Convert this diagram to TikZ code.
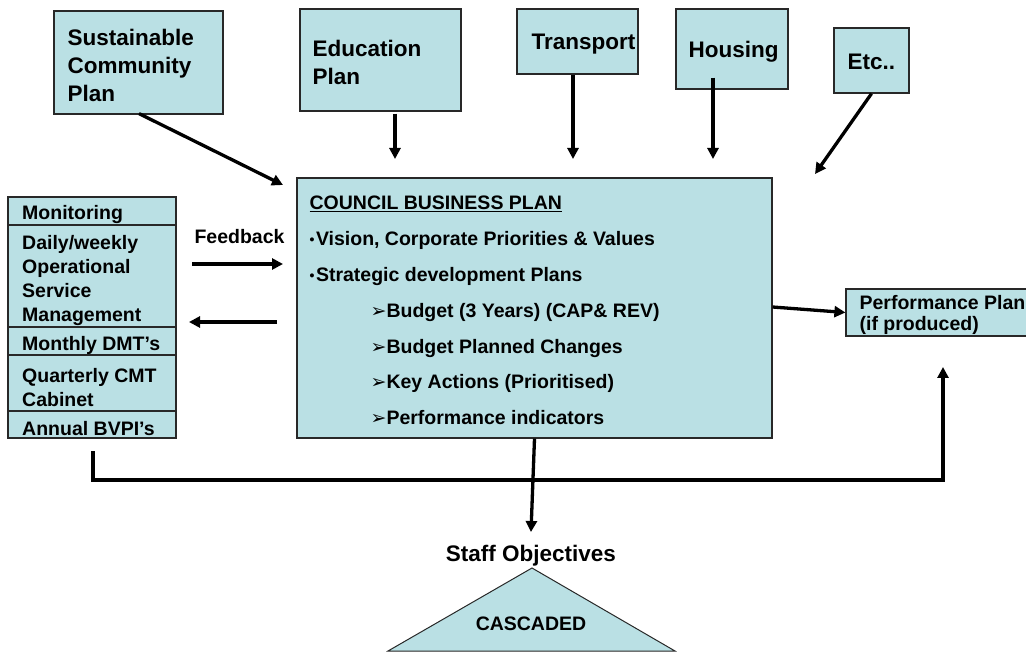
\documentclass[tikz,border=0pt]{standalone}
\usepackage{fontspec}
\setmainfont{Liberation Sans}
\newfontfamily\symfont{DejaVu Sans}
\usetikzlibrary{arrows.meta,calc}
\definecolor{boxfill}{RGB}{186,224,228}
\definecolor{boxline}{RGB}{40,40,40}
\newcommand{\blt}{\raisebox{1pt}{\fontsize{14}{14}\selectfont•}\hspace{1.5pt}}
\newcommand{\tip}{\hspace*{61pt}{\symfont\fontsize{19}{19}\selectfont ➢}}

\begin{document}
\begin{tikzpicture}[x=1pt,y=-1pt,
  big/.style={font=\fontsize{22.5}{28}\selectfont\bfseries},
  small/.style={font=\fontsize{19.5}{24}\selectfont\bfseries},
  planbox/.style={draw=boxline, line width=1.2pt, fill=boxfill, inner sep=0pt},
  label/.style={anchor=west, inner sep=0pt, align=left},
  arr/.style={-{Triangle[width=11pt,length=11pt]}, line width=3.3pt}]
\useasboundingbox (0,0) rectangle (1026,652);
\clip (0,0) rectangle (1026,652);

% source plans along the top
\node[planbox, minimum width=169pt, minimum height=103pt] (scp) at (138.5,62.5) {};
\node[label, big] (scpT) at ([xshift=14pt,yshift=-2.5pt]scp.west)
  {Sustainable\\Community\\Plan};
\node[planbox, minimum width=161pt, minimum height=102pt] (edu) at (380.5,60) {};
\node[label, big] (eduT) at ([xshift=13pt,yshift=-2.5pt]edu.west) {Education\\Plan};
\node[planbox, minimum width=121pt, minimum height=65pt] (tra) at (577.5,41.5) {};
\node[label, big] (traT) at ([xshift=15pt,yshift=-3pt]tra.west) {Transport};
\node[planbox, minimum width=112pt, minimum height=80pt] (hou) at (732,49) {};
\node[label, big] (houT) at ([xshift=13pt,yshift=-2.5pt]hou.west) {Housing};
\node[planbox, minimum width=75pt, minimum height=65pt] (etc) at (871.5,60.5) {};
\node[label, big] (etcT) at ([xshift=14pt,yshift=-1.5pt]etc.west) {Etc..};

% central business plan
\node[planbox, minimum width=475pt, minimum height=260pt] (council) at (534.5,308) {};
\node[label, font=\fontsize{19.5}{35.8}\selectfont\bfseries]
  (councilT) at ([xshift=13pt,yshift=-2.5pt]council.west) {%
  \underline{COUNCIL BUSINESS PLAN}\\
  \blt Vision, Corporate Priorities \& Values\\
  \blt Strategic development Plans\\
  \tip Budget (3 Years) (CAP\& REV)\\
  \tip Budget Planned Changes\\
  \tip Key Actions (Prioritised)\\
  \tip Performance indicators};

% monitoring stack on the left
\node[planbox, minimum width=168pt, minimum height=241pt] (mon) at (92,317.5) {};
\draw[boxline, line width=1.2pt] (8,225) -- (176,225)
  (8,327) -- (176,327) (8,355) -- (176,355) (8,411) -- (176,411);
\node[label, small] (monA) at (22,214.5) {Monitoring};
\node[label, small] (monB) at (22,280.5)
  {Daily/weekly\\Operational\\Service\\Management};
\node[label, small] (monC) at (22,345.5) {Monthly DMT’s};
\node[label, small] (monD) at (22,387.5) {Quarterly CMT\\Cabinet};
\node[label, small] (monE) at (22,428.5) {Annual BVPI’s};

% performance plan on the right
\node[planbox, minimum width=204pt, minimum height=47pt] (perf) at (948,312.5) {};
\node[label, font=\fontsize{19.5}{21}\selectfont\bfseries]
  (perfT) at ([xshift=14pt,yshift=-2pt]perf.west) {Performance Plan\\(if produced)};

\node[small, inner sep=0pt] (fb) at (239.5,236.5) {Feedback};

% staff objectives
\node[big, inner sep=0pt] (staff) at (531,555.5) {Staff Objectives};
\coordinate (triTop) at (532,568);
\coordinate (triL) at (388,651);
\coordinate (triR) at (675,651);
\draw[boxline, line width=1pt, fill=boxfill] (triTop) -- (triL) -- (triR) -- cycle;
\node[small, inner sep=0pt] (casc) at (531,624) {CASCADED};

% arrow end points
\coordinate (scpTip) at (283,185);
\coordinate (eduTip) at (395,159);
\coordinate (traTip) at (573,159);
\coordinate (houTip) at (713,159);
\coordinate (etcTip) at (815,174);
\coordinate (fbStart) at (192,264);
\coordinate (fbTip) at (283,264);
\coordinate (backStart) at (277,322);
\coordinate (backTip) at (189,322);
\coordinate (staffTip) at (531,532);
\coordinate (loopStart) at (93,451);
\coordinate (perfTip) at (943,367);

% connectors
\draw[arr] ([xshift=0.5pt,yshift=1pt]scp.south) -- (scpTip);
\draw[arr] ([xshift=14.5pt,yshift=-2pt]edu.south) -- (eduTip);
\draw[arr] ([xshift=-4.5pt]tra.south) -- (traTip);
\draw[arr] ([xshift=-19pt,yshift=12pt]hou.south) -- (houTip);
\draw[arr] (etc.south) -- (etcTip);
\draw[arr] (fbStart) -- (fbTip);
\draw[arr] (backStart) -- (backTip);
\draw[arr] ([yshift=1pt]council.east) -- (perf.west);
\draw[arr] (council.south) -- (staffTip);
\draw[arr, line width=3.8pt] (loopStart) -- ++(0,29) -| (perfTip);
\end{tikzpicture}
\end{document}
